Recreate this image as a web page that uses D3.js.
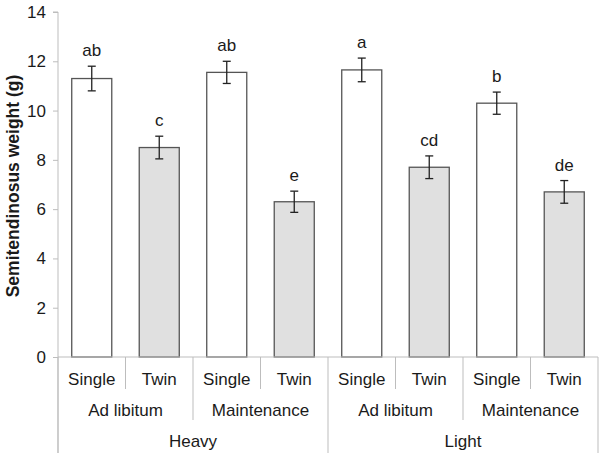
<!DOCTYPE html>
<html lang="en">
<head>
<meta charset="UTF-8">
<title>Semitendinosus</title>
<style>
  body { margin: 0; background: #fff; }
  text { font-family: "Liberation Sans", Arial, sans-serif; fill: #1a1a1a; }
</style>
</head>
<body>
<div id="chart"></div>
<script src="https://cdn.jsdelivr.net/npm/d3@7"></script>
<script>
// data
var groups = ["Heavy", "Light"];
var feeds = ["Ad libitum", "Maintenance"];
var births = ["Single", "Twin"];
var means = [11.3, 8.5, 11.55, 6.3, 11.65, 7.7, 10.3, 6.7];
var errs  = [0.5, 0.46, 0.45, 0.43, 0.48, 0.46, 0.45, 0.46];
var letters = ["ab", "c", "ab", "e", "a", "cd", "b", "de"];
var yTicks = [0, 2, 4, 6, 8, 10, 12, 14];

var width = 600, height = 453;
var plotL = 58, plotR = 598, plotT = 12, base = 357;

var svg = d3.select("#chart").append("svg")
  .attr("width", width)
  .attr("height", height);

var x = d3.scaleBand()
  .domain(d3.range(means.length))
  .range([plotL, plotR])
  .paddingInner(0.407)
  .paddingOuter(0.2035);

var y = d3.scaleLinear()
  .domain([0, 14])
  .range([base, plotT]);

// y axis
var yAxis = svg.append("g")
  .attr("transform", "translate(" + plotL + ",0)")
  .call(d3.axisLeft(y).tickValues(yTicks).tickSize(5).tickPadding(7));
yAxis.select(".domain").attr("stroke", "#bdbdbd").attr("d", "M-5," + y(14) + "H0V" + height);
yAxis.selectAll(".tick line").attr("stroke", "#bdbdbd");
yAxis.selectAll(".tick text")
  .style("font-size", "17px")
  .style("font-family", "Liberation Sans, Arial, sans-serif")
  .attr("fill", "#1a1a1a");

svg.append("text")
  .attr("transform", "translate(13,186) rotate(-90)")
  .attr("text-anchor", "middle")
  .attr("dominant-baseline", "central")
  .style("font-size", "17.5px")
  .style("font-weight", "bold")
  .text("Semitendinosus weight (g)");

// bars
svg.selectAll("rect.bar")
  .data(means)
  .enter().append("rect")
  .attr("class", "bar")
  .attr("x", function(d, i) { return x(i); })
  .attr("y", function(d) { return y(d); })
  .attr("width", x.bandwidth())
  .attr("height", function(d) { return base - y(d); })
  .attr("fill", function(d, i) { return i % 2 ? "#e0e0e0" : "#ffffff"; })
  .attr("stroke", "#555")
  .attr("stroke-width", 1.3);

// error bars
var eb = svg.selectAll("g.err")
  .data(means)
  .enter().append("g")
  .attr("class", "err")
  .attr("stroke", "#222")
  .attr("stroke-width", 1.3);
eb.append("line")
  .attr("x1", function(d, i) { return x(i) + x.bandwidth() / 2; })
  .attr("x2", function(d, i) { return x(i) + x.bandwidth() / 2; })
  .attr("y1", function(d, i) { return y(d + errs[i]); })
  .attr("y2", function(d, i) { return y(d - errs[i]); });
[1, -1].forEach(function(s) {
  eb.append("line")
    .attr("x1", function(d, i) { return x(i) + x.bandwidth() / 2 - 4; })
    .attr("x2", function(d, i) { return x(i) + x.bandwidth() / 2 + 4; })
    .attr("y1", function(d, i) { return y(d + s * errs[i]); })
    .attr("y2", function(d, i) { return y(d + s * errs[i]); });
});

// significance letters
svg.selectAll("text.lett")
  .data(means)
  .enter().append("text")
  .attr("class", "lett")
  .attr("x", function(d, i) { return x(i) + x.bandwidth() / 2; })
  .attr("y", function(d, i) { return y(d + errs[i]) - 10; })
  .attr("text-anchor", "middle")
  .style("font-size", "17px")
  .text(function(d, i) { return letters[i]; });

// category axis
var step = x.step();
svg.append("line")
  .attr("x1", plotL).attr("x2", plotR)
  .attr("y1", base).attr("y2", base)
  .attr("stroke", "#bdbdbd");

var bounds = d3.range(means.length + 1);
svg.selectAll("line.sep")
  .data(bounds)
  .enter().append("line")
  .attr("class", "sep")
  .attr("x1", function(i) { return plotL + i * step; })
  .attr("x2", function(i) { return plotL + i * step; })
  .attr("y1", base)
  .attr("y2", function(i) {
    if (i % 4 === 0) return height;
    if (i % 2 === 0) return 420;
    return 389;
  })
  .attr("stroke", "#bdbdbd");

var rows = [];
means.forEach(function(d, i) {
  rows.push({ t: births[i % 2], cx: plotL + (i + 0.5) * step, cy: 379 });
});
d3.range(4).forEach(function(j) {
  rows.push({ t: feeds[j % 2], cx: plotL + (j * 2 + 1) * step, cy: 410 });
});
groups.forEach(function(g, k) {
  rows.push({ t: g, cx: plotL + (k * 4 + 2) * step, cy: 441 });
});
svg.selectAll("text.cat")
  .data(rows)
  .enter().append("text")
  .attr("class", "cat")
  .attr("x", function(d) { return d.cx; })
  .attr("y", function(d) { return d.cy; })
  .attr("text-anchor", "middle")
  .attr("dominant-baseline", "central")
  .style("font-size", "17px")
  .text(function(d) { return d.t; });
</script>
</body>
</html>
